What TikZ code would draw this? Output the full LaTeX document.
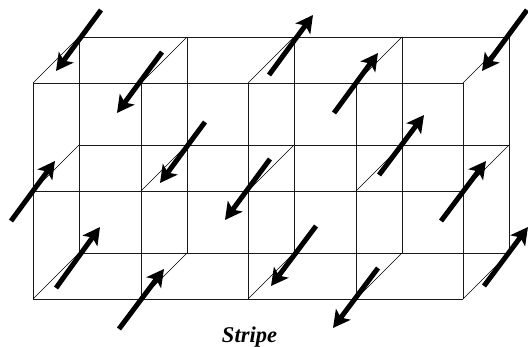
\documentclass[tikz,border=0pt]{standalone}
\usepackage{fontspec}
\setmainfont{Liberation Serif}
\usepackage{tikz}
\usetikzlibrary{arrows.meta}
\tikzset{
    bond/.style={black!90, line width=0.75pt},
    depth/.style={black, line width=0.5pt},
    spin/.style={-{Stealth[length=17pt,width=18pt,inset=4pt]}, black, line width=5pt},
}

\begin{document}
\begin{tikzpicture}[x=1pt,y=-1pt]
    \useasboundingbox (0,0) rectangle (528,347);

    % back and front lattice points
    \foreach \col/\fx/\bx in {0/33/79, 1/141/187, 2/248/294, 3/356/402, 4/463/509}
        \foreach \row/\fy/\by in {0/83/37, 1/191/145, 2/299/253} {
            \coordinate (f\col\row) at (\fx,\fy);
            \coordinate (b\col\row) at (\bx,\by);
        }

    % back grid
    \foreach \col in {0,...,4}
        \draw[bond] (b\col0) -- (b\col2);
    \foreach \row in {0,1,2}
        \draw[bond] (b0\row) -- (b4\row);

    % front grid
    \foreach \col in {0,...,4}
        \draw[bond] (f\col0) -- (f\col2);
    \foreach \row in {0,1,2}
        \draw[bond] (f0\row) -- (f4\row);

    % depth edges
    \foreach \col in {0,...,4}
        \foreach \row in {0,1,2}
            \draw[depth] (f\col\row) -- (b\col\row);

    % spins
    \foreach \n/\ax/\ay/\bx/\by in {
        1/101/10/56/71, 2/162/52/117/113, 3/205/122/160/183,
        4/11/221/55/161, 5/56/288/100/227, 6/119/329/164/269,
        7/269/75/313/15, 8/334/113/378/53, 9/527/10/482/71,
        10/379/175/424/115, 11/441/221/486/161, 12/484/286/528/227,
        13/270/159/225/220, 14/316/226/271/286, 15/378/268/333/328} {
        \coordinate (t\n) at (\ax,\ay);
        \coordinate (h\n) at (\bx,\by);
        \draw[spin] (t\n) -- (h\n);
    }

    \node[font=\fontsize{22.5}{26}\selectfont\bfseries\itshape] (title) at (249.5,337) {Stripe};
\end{tikzpicture}
\end{document}
